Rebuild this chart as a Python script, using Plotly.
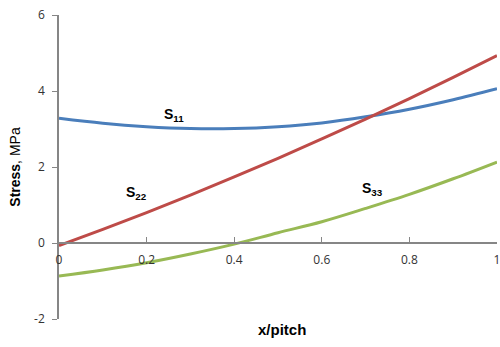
import plotly.graph_objects as go

x_vals = [0, 0.1, 0.2, 0.3, 0.4, 0.5, 0.6, 0.7, 0.8, 0.9, 1.0]
s11 = [3.28, 3.15, 3.06, 3.01, 3.01, 3.06, 3.16, 3.32, 3.52, 3.77, 4.06]
s22 = [-0.07, 0.36, 0.80, 1.26, 1.74, 2.23, 2.74, 3.26, 3.80, 4.36, 4.93]
s33 = [-0.87, -0.71, -0.52, -0.29, -0.03, 0.27, 0.56, 0.91, 1.28, 1.69, 2.13]

x_ticks = [0, 0.2, 0.4, 0.6, 0.8, 1]
x_ticklabels = ["0", "0.2", "0.4", "0.6", "0.8", "1"]
y_ticks = [-2, 0, 2, 4, 6]
y_ticklabels = ["-2", "0", "2", "4", "6"]

series = [("S11", s11, "#4A7EBB"), ("S22", s22, "#BE4B48"), ("S33", s33, "#98B954")]

fig = go.Figure()
for name, ys, col in series:
    fig.add_trace(go.Scatter(x=x_vals, y=ys, mode="lines", name=name,
                             line=dict(color=col, width=3, shape="spline"),
                             showlegend=False, cliponaxis=False))

labels = [("11", 0.235, 3.37), ("22", 0.148, 1.31), ("33", 0.687, 1.42)]
for sub, lx, ly in labels:
    fig.add_annotation(x=lx, y=ly, xref="x", yref="y", text=f"<b>S<sub>{sub}</sub></b>",
                       showarrow=False, xanchor="left", yanchor="middle",
                       font=dict(family="Liberation Sans, Arial", size=14, color="black"))

fig.update_layout(
    width=500, height=347,
    margin=dict(l=59, r=3, t=15, b=28),
    paper_bgcolor="white", plot_bgcolor="white",
    xaxis=dict(range=[0, 1], tickvals=x_ticks, ticktext=x_ticklabels, automargin=False,
               anchor="free", position=0.25, showline=True, linecolor="#868686", linewidth=1.5,
               ticks="inside", ticklen=5, tickcolor="#868686", showgrid=False, zeroline=False,
               ticklabeloverflow="allow", ticklabelstandoff=6,
               tickfont=dict(family="Open Sans, Noto Sans", size=12, color="#333333"),
               title=None),
    yaxis=dict(range=[-2, 6], tickvals=y_ticks, ticktext=y_ticklabels, automargin=False,
               showline=True, linecolor="#868686", linewidth=1.5,
               ticks="outside", ticklen=5, tickcolor="#868686", showgrid=False, zeroline=False,
               ticklabeloverflow="allow", ticklabelstandoff=5,
               tickfont=dict(family="Open Sans, Noto Sans", size=12, color="#333333"),
               title=dict(text="<b>Stress</b>, MPa", standoff=10,
                          font=dict(family="Liberation Sans, Arial", size=14, color="black"))),
)
fig.add_annotation(x=0.51, y=-0.036, xref="paper", yref="paper", text="<b>x/pitch</b>",
                   showarrow=False, xanchor="center", yanchor="middle",
                   font=dict(family="Liberation Sans, Arial", size=15, color="black"))

fig.write_html("out.html", config={"displayModeBar": False},
               post_script="document.body.style.margin='0px';")
